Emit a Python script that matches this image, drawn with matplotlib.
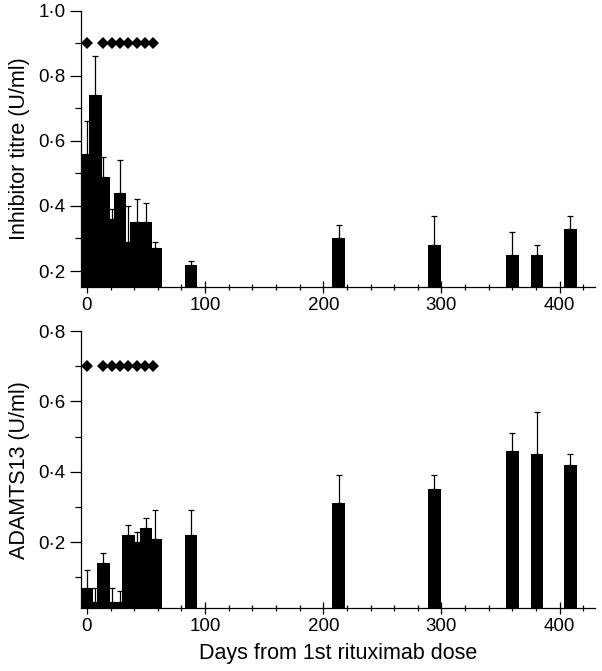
import numpy as np
import matplotlib
matplotlib.use('Agg')
import matplotlib.pyplot as plt
from matplotlib.ticker import MultipleLocator, FuncFormatter

plt.rcParams['font.family'] = ['Liberation Sans', 'DejaVu Sans']

# days from first rituximab dose for each sample
days = [0, 7, 14, 21, 28, 35, 42, 50, 58, 88, 213, 294, 360, 381, 409]

# inhibitor titre (U/ml): mean and top of error bar
inh_mean = [0.56, 0.74, 0.49, 0.36, 0.44, 0.29, 0.35, 0.35, 0.27,
            0.22, 0.30, 0.28, 0.25, 0.25, 0.33]
inh_top = [0.66, 0.86, 0.55, 0.39, 0.54, 0.40, 0.42, 0.41, 0.29,
           0.23, 0.34, 0.37, 0.32, 0.28, 0.37]

# ADAMTS13 (U/ml): mean and top of error bar
adam_mean = [0.07, 0.03, 0.14, 0.03, 0.03, 0.22, 0.20, 0.24, 0.21,
             0.22, 0.31, 0.35, 0.46, 0.45, 0.42]
adam_top = [0.12, 0.07, 0.17, 0.07, 0.06, 0.25, 0.23, 0.27, 0.29,
            0.29, 0.39, 0.39, 0.51, 0.57, 0.45]

# rituximab doses (diamonds)
dose_days = [0, 14, 21, 28, 35, 42, 49, 56]

bar_w = 10.7


def dot_fmt(v, pos):
    return f'{v:.1f}'.replace('.', '\u00b7')


def panel(ax, mean, top, ylim, dose_y, ylabel):
    mean = np.array(mean)
    top = np.array(top)
    # bars start below the axis so they sit on the cut-off baseline
    ax.bar(days, mean + 1, width=bar_w, bottom=-1, color='black',
           linewidth=0, zorder=2)
    ax.errorbar(days, mean, yerr=[np.zeros(len(mean)), top - mean],
                fmt='none', ecolor='black', elinewidth=0.9, capsize=2.3,
                capthick=0.9, zorder=3)
    # error lines drawn over another bar show up white (xor drawing)
    for i, x in enumerate(days):
        cover = [mean[j] for j in range(len(days))
                 if j != i and abs(days[j] - x) < bar_w / 2]
        if cover and max(cover) > mean[i]:
            ax.vlines(x, mean[i], min(max(cover), top[i]), color='white',
                      linewidth=0.9, zorder=4)
    ax.plot(dose_days, [dose_y] * len(dose_days), 'D', color='black',
            markersize=6.3, markeredgewidth=0, zorder=5, clip_on=False)

    ax.set_xlim(-5, 430)
    ax.set_ylim(*ylim)
    ax.spines['top'].set_visible(False)
    ax.spines['right'].set_visible(False)
    for s in ('left', 'bottom'):
        ax.spines[s].set_linewidth(0.9)
    ax.xaxis.set_major_locator(MultipleLocator(100))
    ax.xaxis.set_minor_locator(MultipleLocator(20))
    ax.yaxis.set_major_locator(MultipleLocator(0.2))
    ax.yaxis.set_minor_locator(MultipleLocator(0.1))
    ax.yaxis.set_major_formatter(FuncFormatter(dot_fmt))
    ax.tick_params(axis='x', which='major', direction='inout', length=8, width=0.9,
                   labelsize=13.5, pad=3)
    ax.tick_params(axis='x', which='minor', direction='inout', length=4, width=0.9)
    ax.tick_params(axis='y', which='major', direction='out', length=8, width=0.9,
                   labelsize=13.5, pad=3)
    ax.tick_params(axis='y', which='minor', direction='out', length=4, width=0.9)
    ax.set_ylabel(ylabel, fontsize=15.5, labelpad=6)


fig = plt.figure(figsize=(6.02, 6.71), dpi=100)
ax1 = fig.add_axes([0.1346, 0.5718, 0.8538, 0.4124])
ax2 = fig.add_axes([0.1346, 0.0934, 0.8538, 0.4133])

panel(ax1, inh_mean, inh_top, (0.15, 1.0), 0.9, 'Inhibitor titre (U/ml)')
panel(ax2, adam_mean, adam_top, (0.012, 0.8), 0.7, 'ADAMTS13 (U/ml)')
ax2.set_xlabel('Days from 1st rituximab dose', fontsize=15.5, labelpad=6)

fig.savefig('out.png', dpi=100)
